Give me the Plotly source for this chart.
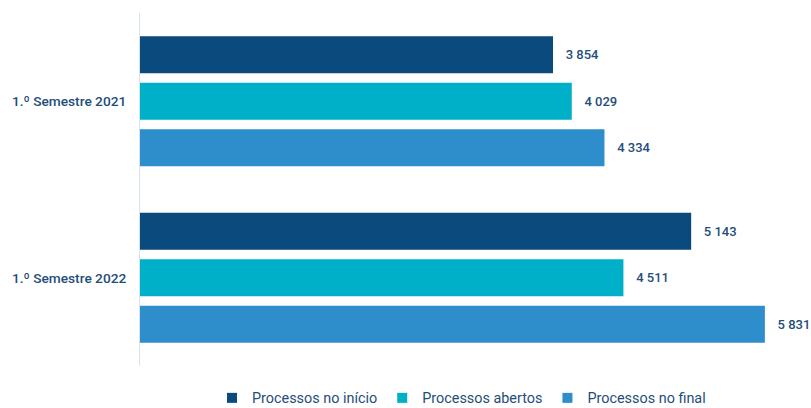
import plotly.graph_objects as go

categories = ["1.º Semestre 2021", "1.º Semestre 2022"]
series_names = ["Processos no início", "Processos abertos", "Processos no final"]
inicio = [3854, 5143]
abertos = [4029, 4511]
final = [4334, 5831]
colors = ["#0B4A7D", "#00AFC8", "#2E8DCB"]

def fmt(v):
    return "   " + f"{v:,}".replace(",", " ")

fig = go.Figure()
for name, vals, col in zip(series_names, [inicio, abertos, final], colors):
    fig.add_trace(go.Bar(
        y=categories, x=vals, name=name, orientation="h",
        marker=dict(color=col, line=dict(width=0)),
        text=[fmt(v) for v in vals], textposition="outside",
        textfont=dict(color="#1F4E79", size=13, family="Roboto", weight=500),
        cliponaxis=False, showlegend=False,
    ))
    # legend entry with a small square symbol
    fig.add_trace(go.Scatter(
        x=[None], y=[None], mode="markers", name=name,
        marker=dict(symbol="square", size=10, color=col),
        showlegend=True, hoverinfo="skip",
    ))

fig.update_layout(
    width=811, height=408,
    margin=dict(l=140, r=28, t=13, b=42),
    barmode="group", bargap=0.21, bargroupgap=0.2,
    plot_bgcolor="white", paper_bgcolor="white",
    font=dict(family="Roboto", color="#1F4E79", size=13),
    showlegend=True,
    legend=dict(orientation="h", x=0.5, xanchor="center", xref="paper",
                y=10 / 408, yanchor="middle", yref="container",
                font=dict(size=14.4, color="#1F4E79"), itemwidth=30, traceorder="normal"),
    xaxis=dict(range=[0, 6000], visible=False, showgrid=False, zeroline=False),
    yaxis=dict(autorange="reversed", showline=True, linecolor="#D6E4F0", linewidth=1,
               showgrid=False, ticks="", ticklabelstandoff=10,
               tickfont=dict(size=13.7, color="#1F4E79", family="Roboto", weight=500)),
)
fig.write_html("out.html")
